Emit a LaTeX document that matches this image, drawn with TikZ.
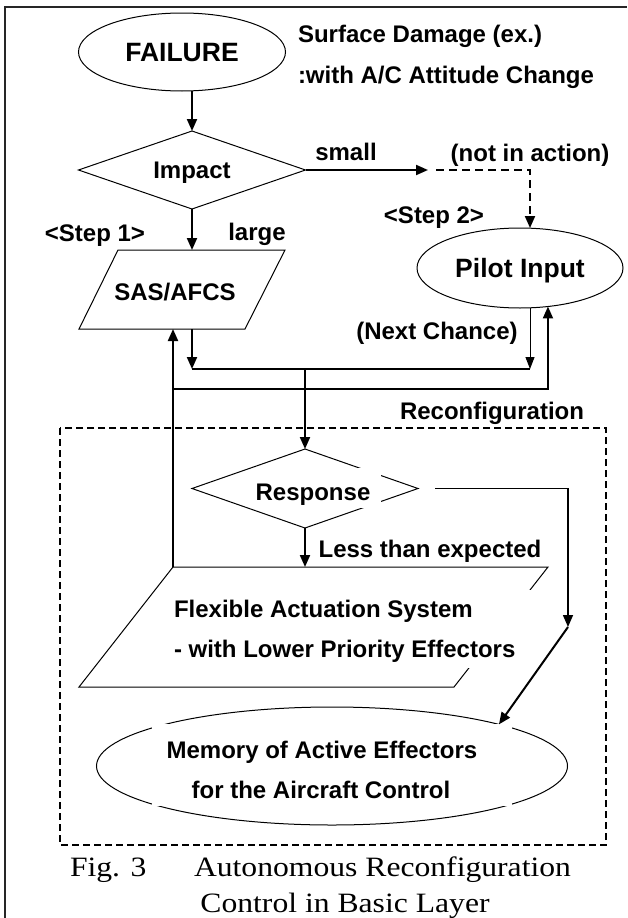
\documentclass[tikz,border=0pt]{standalone}
\usepackage{fontspec}
\setmainfont{Liberation Sans}
\newfontfamily\capfont{Liberation Serif}
\usetikzlibrary{arrows.meta,shapes.geometric}
\begin{document}
\begin{tikzpicture}[x=1pt,y=-1pt,
  every node/.style={inner sep=0pt,outer sep=0pt},
  txt/.style={font=\bfseries\fontsize{24}{28}\selectfont,text height=17pt,text depth=0pt},
  bigtxt/.style={font=\bfseries\fontsize{26.5}{30}\selectfont,text height=18.5pt,text depth=0pt},
  captiontxt/.style={font=\capfont\fontsize{28}{32}\selectfont,text height=18.5pt,text depth=0pt},
  shapeline/.style={draw=black,line width=1pt},
  ell/.style={shapeline,ellipse},
  dia/.style={shapeline,diamond,aspect=2.9},
  conn/.style={line width=2pt},
  arr/.style={conn,-{Triangle[length=12pt,width=10pt]}},
  thinarr/.style={line width=1pt,-{Triangle[length=12pt,width=9pt]}},
  dasharr/.style={arr,dash pattern=on 8pt off 5pt},
  boxdash/.style={line width=2pt,dash pattern=on 7pt off 4pt},
  mask/.style={fill=white}
]
\useasboundingbox (0,0) rectangle (627,918);
% frame (cropped)
\draw[line width=2pt,black!85] (5,918) -- (5,7) -- (627,7);

% shapes
\node[ell,minimum width=207pt,minimum height=78pt,bigtxt] (fail) at (182,52) {FAILURE};
\node[dia,minimum width=227pt,minimum height=78pt,txt] (imp) at (192,170) {Impact};
\coordinate (sas-tl) at (118,250);
\coordinate (sas-tr) at (285,250);
\coordinate (sas-br) at (245,329);
\coordinate (sas-bl) at (79,329);
\draw[shapeline] (sas-tl) -- (sas-tr) -- (sas-br) -- (sas-bl) -- cycle;
\node[ell,minimum width=206pt,minimum height=80pt,bigtxt] (pilot) at (520,268) {Pilot Input};
\node[dia,minimum width=226pt,minimum height=79pt] (resp) at (305,488.5) {};
\coordinate (fx-tl) at (173,567);
\coordinate (fx-tr) at (548,567);
\coordinate (fx-br) at (454,687);
\coordinate (fx-bl) at (79,687);
\draw[shapeline] (fx-tl) -- (fx-tr) -- (fx-br) -- (fx-bl) -- cycle;
\node[ell,minimum width=471pt,minimum height=118pt] (mem) at (332,766) {};

% white gaps behind texts
\fill[mask] (256,468) rectangle (381,508);
\fill[mask] (170,590) rectangle (533,668);
\fill[mask] (152,724) rectangle (512,806);

% texts
\node[txt,anchor=west] (dmg1) at (298,34) {Surface Damage (ex.)};
\node[txt,anchor=west] (dmg2) at (298,75) {:with A/C Attitude Change};
\node[txt] (small) at (346,152) {small};
\node[txt] (nia) at (530,153) {(not in action)};
\node[txt] (step2) at (434,215) {<Step 2>};
\node[txt] (step1) at (95,233) {<Step 1>};
\node[txt] (large) at (257,232) {large};
\node[txt] (sas) at (175,292) {SAS/AFCS};
\node[txt] (next) at (437,331) {(Next Chance)};
\node[txt] (reconf) at (492,411) {Reconfiguration};
\node[txt] (resptxt) at (313,492) {Response};
\node[txt] (less) at (430,549) {Less than expected};
\node[txt,anchor=west] (flex1) at (174,609) {Flexible Actuation System};
\node[txt,anchor=west] (flex2) at (174,649) {- with Lower Priority Effectors};
\node[txt] (mem1) at (322,750) {Memory of Active Effectors};
\node[txt] (mem2) at (321,790) {for the Aircraft Control};
\node[captiontxt,anchor=west] (fig) at (70,867) {\scalebox{1.13}[1]{Fig. 3}};
\node[captiontxt,anchor=west] (cap1) at (194,867) {\scalebox{1.13}[1]{Autonomous Reconfiguration}};
\node[captiontxt] (cap2) at (345,903) {\scalebox{1.13}[1]{Control in Basic Layer}};

% connectors
\coordinate (smallend) at (428,170);
\coordinate (dashstart) at (436,170);
\coordinate (pilot-in) at ([xshift=10pt]pilot.north);
\coordinate (sas-out) at (192,329);
\coordinate (sas-in) at (173,329);
\coordinate (bus1) at (192,369);
\coordinate (bus2) at (530,369);
\coordinate (fbrow) at (0,389);
\coordinate (rs) at ([xshift=17pt]resp.east);
\coordinate (rc) at (568,627);

\draw[arr] (fail.south -| imp.north) -- (imp.north);
\draw[arr] (imp.east) -- (smallend);
\draw[dasharr] (dashstart) -| (pilot-in);
\draw[arr] (imp.south) -- (imp.south |- sas-tl);
\draw[arr] (sas-out) -- (bus1);
\draw[conn] (bus1) -- (bus2);
\draw[thinarr] (pilot.south -| bus2) -- (bus2);
\draw[arr] (resp.north |- bus1) -- (resp.north);
\draw[arr] (fx-tl) -- (sas-in);
\draw[arr] (fx-tl |- fbrow) -| (pilot.-54);
\draw[arr] (resp.south) -- (resp.south |- fx-tl);
\draw[line width=1.5pt,-{Triangle[length=12pt,width=10pt]}] (rs) -| (rc);
\draw[arr] (rc) -- (mem.14);

% reconfiguration box
\draw[boxdash] (60,428) rectangle (606,845);
\end{tikzpicture}
\end{document}
